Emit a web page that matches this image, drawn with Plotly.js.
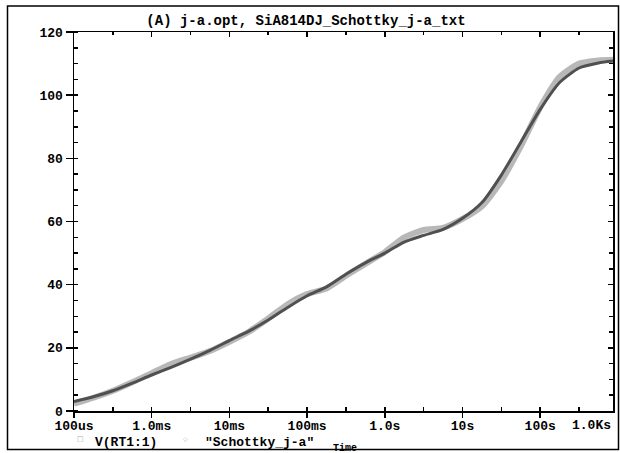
<!DOCTYPE html>
<html>
<head>
<meta charset="utf-8">
<script src="https://cdn.plot.ly/plotly-3.0.1.min.js"></script>
<style>
  html, body { margin: 0; padding: 0; background: #fff; }
  #chart { width: 620px; height: 453px; }
</style>
</head>
<body>
<div id="chart"></div>
<script>
// ---- data ----
const chartTitle = "(A) j-a.opt, SiA814DJ_Schottky_j-a_txt";
const xAxisTitle = "Time";
const seriesNames = ["V(RT1:1)", "\"Schottky_j-a\""];

// time in seconds (quarter-decade steps, last point = right end of axis)
const timeSec = [
  1e-4, 1.778e-4, 3.162e-4, 5.623e-4,
  1e-3, 1.778e-3, 3.162e-3, 5.623e-3,
  1e-2, 1.778e-2, 3.162e-2, 5.623e-2,
  1e-1, 1.778e-1, 3.162e-1, 5.623e-1,
  1, 1.778, 3.162, 5.623,
  10, 17.78, 31.62, 56.23,
  100, 177.8, 316.2, 562.3,
  865
];
// simulated curve V(RT1:1)
const simValues = [
  3.0, 4.5, 6.4, 8.8,
  11.4, 13.8, 16.4, 19.2,
  22.3, 25.3, 28.8, 32.8,
  36.5, 39.3, 43.3, 46.9,
  50.0, 53.5, 55.6, 57.5,
  61.0, 66.0, 74.7, 85.1,
  95.5, 104.0, 108.6, 110.2,
  110.8
];
// measured curve "Schottky_j-a"
const measValues = [
  2.3, 4.2, 6.4, 9.1,
  12.0, 14.9, 16.9, 19.0,
  21.9, 25.1, 29.3, 33.8,
  37.0, 38.8, 42.8, 46.6,
  50.3, 55.0, 57.3, 58.0,
  60.8, 64.8, 72.8, 83.8,
  96.2, 105.8, 110.0, 111.0,
  111.2
];

const xTickVals = [1e-4, 1e-3, 1e-2, 1e-1, 1, 10, 100];
const xTickText = ["100us", "1.0ms", "10ms", "100ms", "1.0s", "10s", "100s"];
const xEndLabel = "1.0Ks";
const xMinorVals = [3.162e-4, 3.162e-3, 3.162e-2, 3.162e-1, 3.162, 31.62, 316.2];
const yTickVals = [0, 20, 40, 60, 80, 100, 120];
const yTickText = ["0", "20", "40", "60", "80", "100", "120"];

// ---- layout helpers ----
const W = 620, H = 453;
const M = { l: 74, r: 7, t: 32, b: 42 };
const PW = W - M.l - M.r, PH = H - M.t - M.b;
const px2x = p => (p - M.l) / PW;
const py2y = p => (H - M.b - p) / PH;

const FONT = "Liberation Mono, DejaVu Sans Mono, monospace";
const tickFont = { family: FONT, size: 13, color: "#000", weight: "bold" };
const xTickFont = { family: FONT, size: 13, color: "#000", weight: "bold" };
const xRange = [Math.log10(timeSec[0]), Math.log10(timeSec[timeSec.length - 1])];
const yRange = [0, 120];

const baseAxis = {
  showgrid: false, zeroline: false, tickcolor: "#000", tickwidth: 1.5,
  linecolor: "#000", linewidth: 1.5, fixedrange: true
};

const traces = [
  {
    x: timeSec, y: measValues, name: seriesNames[1], type: "scatter", mode: "lines",
    line: { color: "#b8b8b8", width: 6, shape: "spline", smoothing: 0.6 },
    showlegend: false, hoverinfo: "skip"
  },
  {
    x: timeSec, y: simValues, name: seriesNames[0], type: "scatter", mode: "lines",
    line: { color: "#505050", width: 3, shape: "spline", smoothing: 0.6 },
    showlegend: false, hoverinfo: "skip"
  },
  { x: [], y: [], xaxis: "x2", yaxis: "y", showlegend: false, hoverinfo: "skip" },
  { x: [], y: [], xaxis: "x3", yaxis: "y", showlegend: false, hoverinfo: "skip" },
  { x: [], y: [], xaxis: "x", yaxis: "y2", showlegend: false, hoverinfo: "skip" },
  { x: [], y: [], xaxis: "x", yaxis: "y3", showlegend: false, hoverinfo: "skip" }
];

const layout = {
  width: W, height: H,
  margin: { l: M.l, r: M.r, t: M.t, b: M.b, pad: 0 },
  paper_bgcolor: "#fff", plot_bgcolor: "#fff",
  showlegend: false,
  title: {
    text: chartTitle, x: 306 / W, xanchor: "center", y: 1 - 20 / H, yanchor: "middle",
    font: { family: FONT, size: 14, color: "#000", weight: "bold" }
  },
  xaxis: Object.assign({}, baseAxis, {
    type: "log", range: xRange, side: "bottom",
    tickmode: "array", tickvals: xTickVals, ticktext: xTickText,
    ticks: "outside", ticklen: 5, showline: true, tickfont: xTickFont,
    ticklabelstandoff: -3,
    minor: { tickmode: "array", tickvals: xMinorVals, ticks: "inside", ticklen: 4,
             tickwidth: 1.5, tickcolor: "#000", showgrid: false }
  }),
  xaxis2: Object.assign({}, baseAxis, {
    type: "log", range: xRange, overlaying: "x", anchor: "y", side: "bottom",
    tickmode: "array", tickvals: xTickVals, ticks: "inside", ticklen: 4,
    showticklabels: false, showline: false
  }),
  xaxis3: Object.assign({}, baseAxis, {
    type: "log", range: xRange, overlaying: "x", anchor: "y", side: "top",
    tickmode: "array", tickvals: xTickVals, ticks: "inside", ticklen: 5,
    showticklabels: false, showline: true,
    minor: { tickmode: "array", tickvals: xMinorVals, ticks: "inside", ticklen: 3,
             tickwidth: 1.5, tickcolor: "#000", showgrid: false }
  }),
  yaxis: Object.assign({}, baseAxis, {
    range: yRange, side: "left", tickmode: "array", tickvals: yTickVals, ticktext: yTickText,
    ticks: "outside", ticklen: 7, showline: true, tickfont: tickFont,
    minor: { dtick: 5, ticks: "inside", ticklen: 4, tickwidth: 1.5, tickcolor: "#000", showgrid: false }
  }),
  yaxis2: Object.assign({}, baseAxis, {
    range: yRange, overlaying: "y", anchor: "x", side: "left",
    tickmode: "array", tickvals: yTickVals, ticks: "inside", ticklen: 4,
    showticklabels: false, showline: false
  }),
  yaxis3: Object.assign({}, baseAxis, {
    range: yRange, overlaying: "y", anchor: "x", side: "right",
    tickmode: "array", tickvals: yTickVals, ticks: "inside", ticklen: 5,
    showticklabels: false, showline: true,
    minor: { dtick: 5, ticks: "inside", ticklen: 4, tickwidth: 1.5, tickcolor: "#000", showgrid: false }
  }),
  shapes: [
    { type: "rect", xref: "paper", yref: "paper",
      x0: px2x(7.5), x1: px2x(618.5), y0: py2y(449.5), y1: py2y(6),
      line: { color: "#000", width: 1.5 }, fillcolor: "rgba(0,0,0,0)", layer: "below" }
  ],
  annotations: [
    { xref: "paper", yref: "paper", x: 1, y: py2y(416), xanchor: "right", yanchor: "top",
      text: xEndLabel, showarrow: false, font: xTickFont },
    { xref: "paper", yref: "paper", x: px2x(80), y: py2y(439), xanchor: "center", yanchor: "middle",
      text: "□", showarrow: false, font: { family: "DejaVu Sans", size: 7, color: "#a8a8a8" } },
    { xref: "paper", yref: "paper", x: px2x(93), y: py2y(442), xanchor: "left", yanchor: "middle",
      text: seriesNames[0], showarrow: false, font: xTickFont },
    { xref: "paper", yref: "paper", x: px2x(185), y: py2y(438), xanchor: "center", yanchor: "middle",
      text: "◇", showarrow: false, font: { family: "DejaVu Sans", size: 6, color: "#a8a8a8" } },
    { xref: "paper", yref: "paper", x: px2x(203), y: py2y(442), xanchor: "left", yanchor: "middle",
      text: seriesNames[1], showarrow: false, font: xTickFont },
    { xref: "paper", yref: "paper", x: px2x(345), y: py2y(441), xanchor: "center", yanchor: "top",
      text: xAxisTitle, showarrow: false, font: { family: FONT, size: 10, color: "#000", weight: "bold" } }
  ]
};

Plotly.newPlot("chart", traces, layout, { staticPlot: true, displayModeBar: false });
</script>
</body>
</html>
